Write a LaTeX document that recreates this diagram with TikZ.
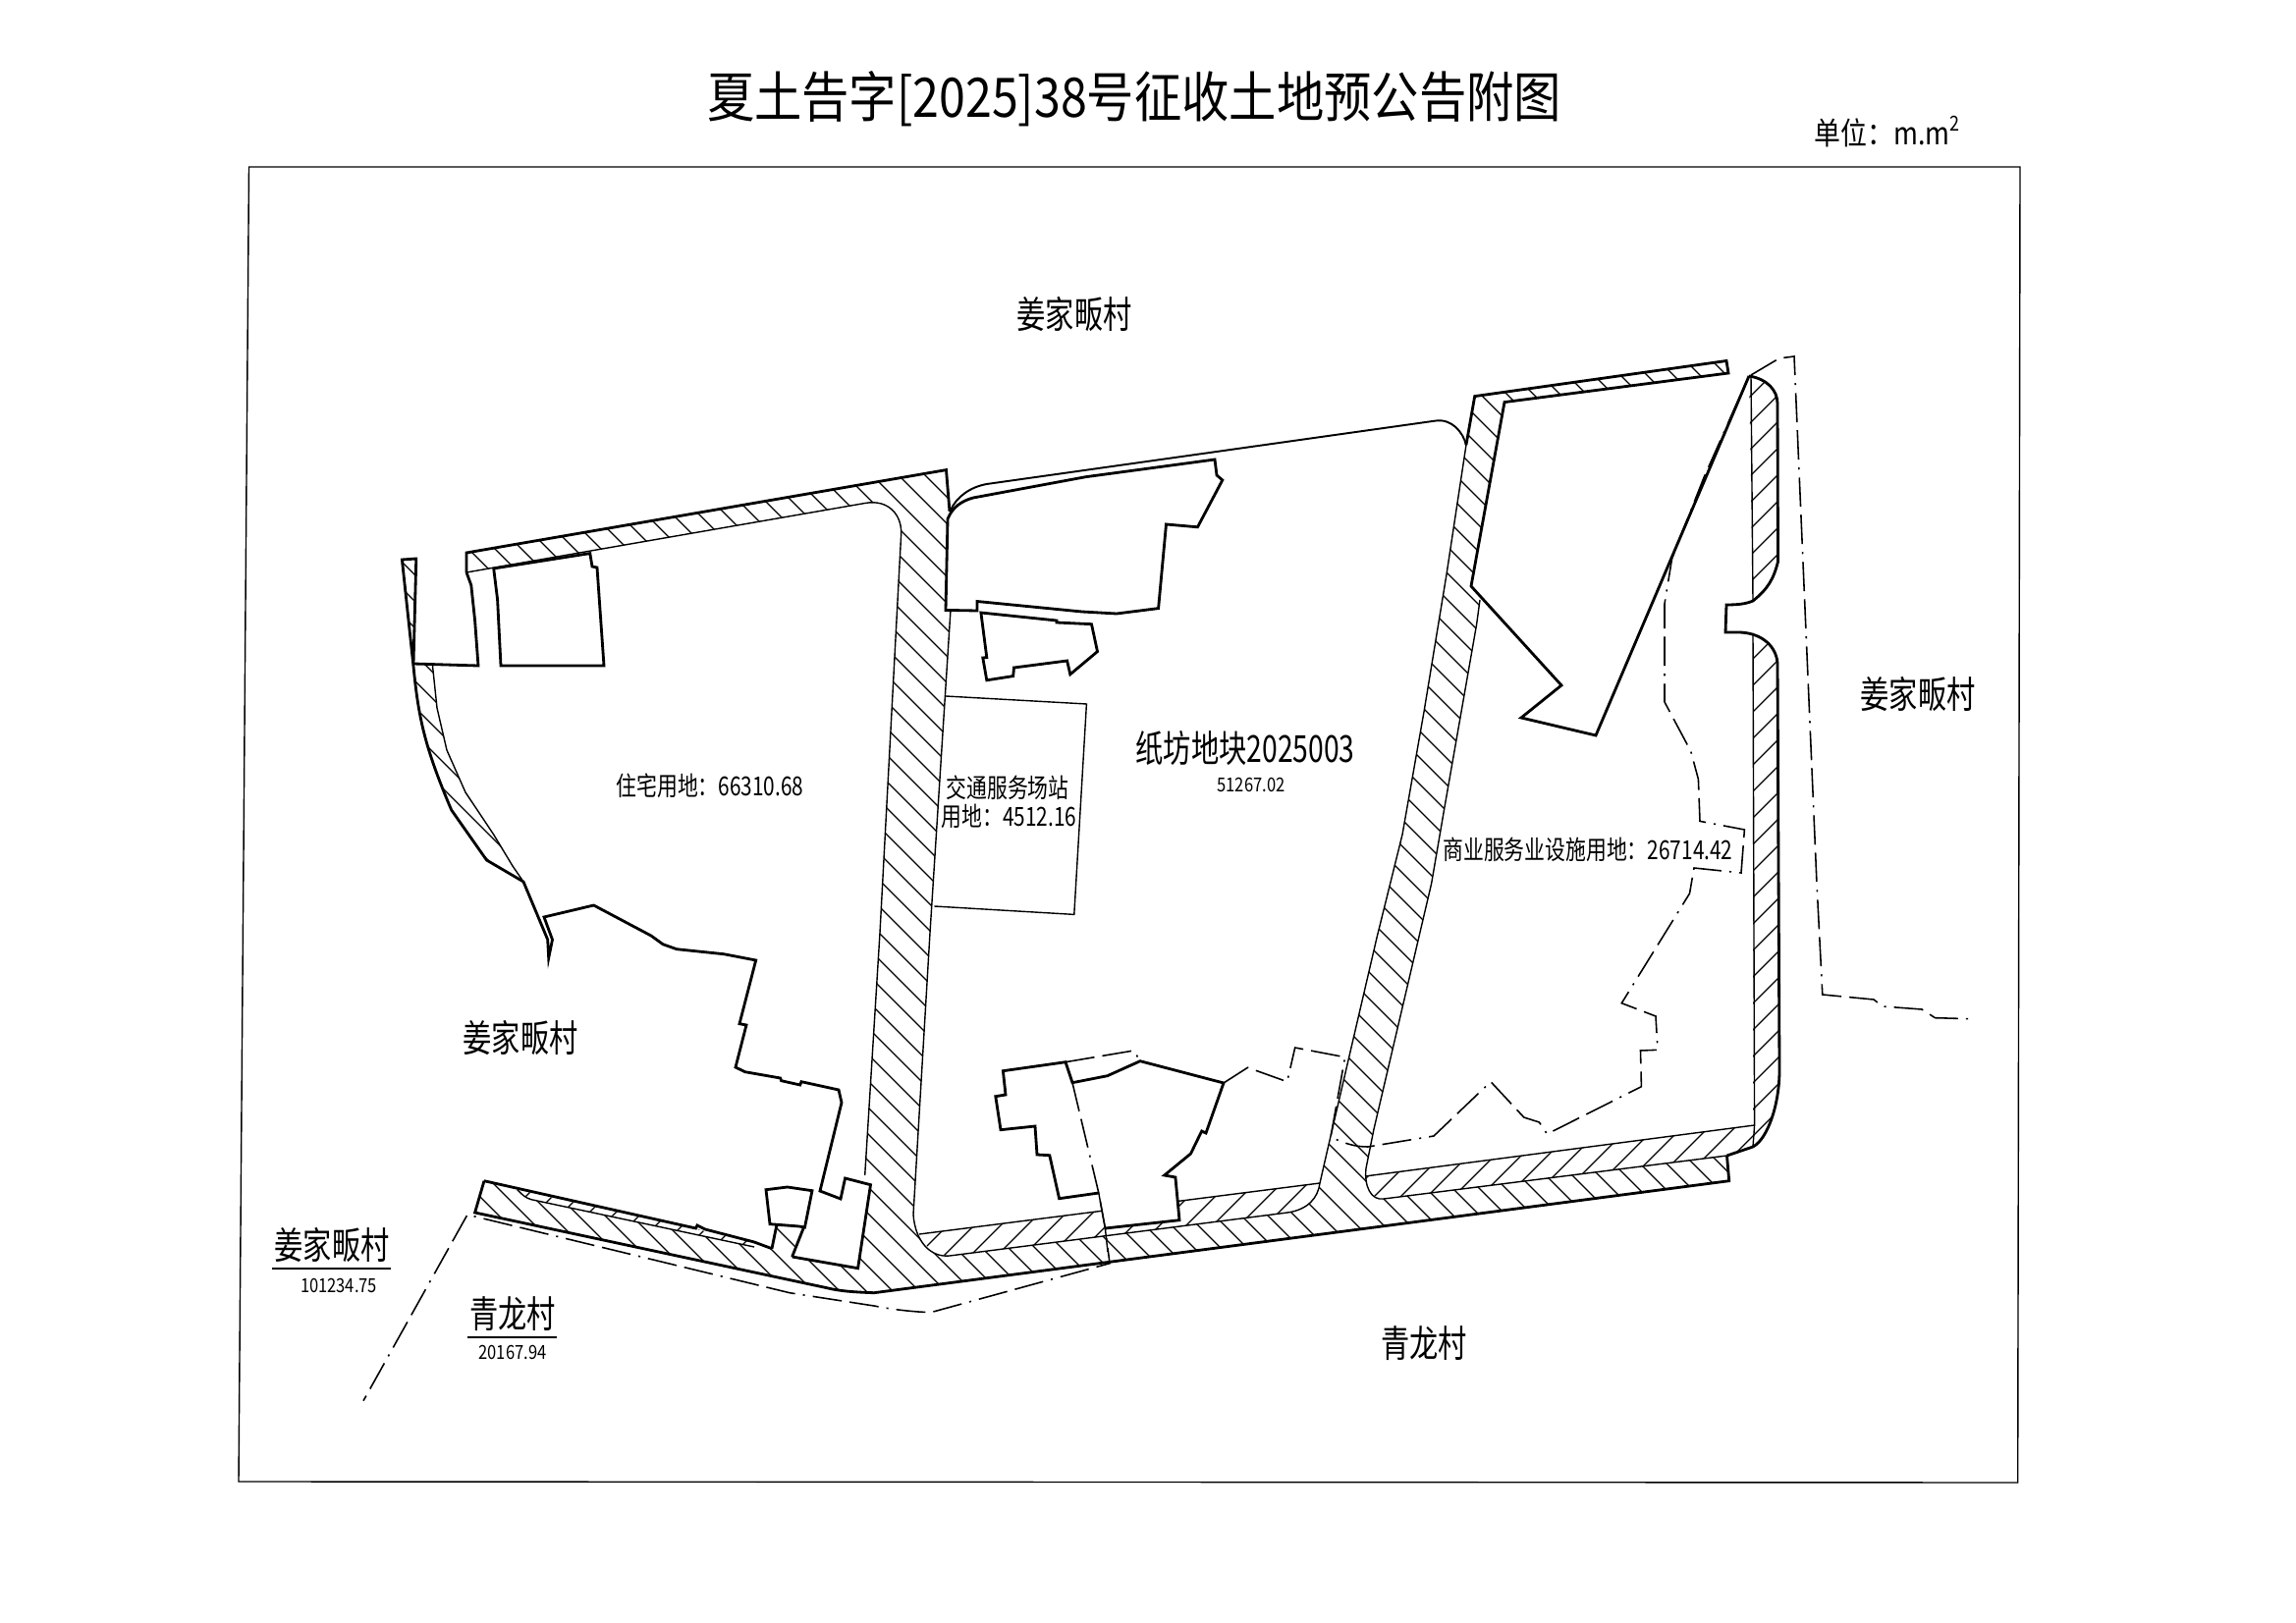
\documentclass[tikz,border=0pt]{standalone}
\usepackage{fontspec}
\setmainfont{Noto Sans CJK SC}
\usepackage{xcolor}

\tikzset{
  thinline/.style={black, line width=0.4pt},
  thickline/.style={black, line width=0.8pt, line join=miter},
  building/.style={thickline, fill=white},
  hatchline/.style={black, line width=0.38pt},
  limitline/.style={black, line width=0.45pt, dash pattern=on 8.5pt off 2.3pt on 8.5pt off 2.3pt on 0.6pt off 2.3pt},
  maptext/.style={inner sep=0pt, transform shape},
  villagetext/.style={maptext, xscale=0.77, font=\fontsize{10.8}{12}\selectfont},
  areatext/.style={maptext, xscale=0.78, font=\fontsize{7.6}{9}\selectfont},
  smalltext/.style={maptext, xscale=0.84, font=\fontsize{5.6}{6}\selectfont},
}

% hatching of one region, lines run down to the right
\newcommand{\hatchdown}[1]{%
  \begin{scope}
    \clip #1;
    \foreach \c in {-1000,-973,...,1500} {\draw[hatchline] (\c,0) -- (\c+1653,1653);}
  \end{scope}}
% hatching of one region, lines run down to the left
\newcommand{\hatchup}[1]{%
  \begin{scope}
    \clip #1;
    \foreach \c in {1700,1727,...,3000} {\draw[hatchline] (\c,0) -- (\c-1653,1653);}
  \end{scope}}

\begin{document}
\begin{tikzpicture}[x=0.1mm, y=-0.1mm]
\useasboundingbox (0,0) rectangle (2338,1653);

% frame
\draw[thinline] (253.5,170) -- (2057,170) -- (2054.7,1510) -- (243,1509) -- cycle;

% road hatching
\hatchdown{(475,563) -- (963.5,478.6) -- (967,521) -- (963.5,545) -- (963,621) -- (968,621) -- (947,950) -- (930,1237) .. controls (932,1265) and (948,1281) .. (967,1279) -- (1311,1235) .. controls (1332,1232) and (1342,1220) .. (1344,1205) -- (1352,1170) -- (1402,955) -- (1428,850) -- (1450,725) -- (1473,585) -- (1493,453) -- (1501.7,403.6) -- (1758,367.5) -- (1760,380) -- (1532,409.6) -- (1498,597) -- (1507,611) -- (1503.6,636) -- (1471,822) -- (1457.6,900) -- (1399,1150) -- (1391,1190) .. controls (1389,1208) and (1396,1223) .. (1409,1221) -- (1758.5,1177) -- (1760.7,1202.7) -- (900,1315) -- (890,1316.7) .. controls (870,1316) and (855,1315) .. (842,1311.7) -- (483.6,1235) -- (493,1202.7) -- (768,1265) -- (785,1271.7) -- (806.6,1280) -- (873.6,1291.7) -- (886.5,1206.7) -- (880.7,1197) -- (896,950) -- (917.6,545) .. controls (919,525) and (905,508) .. (880.7,512.5) -- (475,583) -- cycle}
\hatchdown{(409.4,570) -- (423.8,569) -- (421,676) -- (440.5,678) -- (445,721) -- (455,764) -- (474,807) -- (502.7,850) -- (522,882) -- (533,898) -- (495.5,876) -- (459.7,825) -- (435.7,768) -- (421,678.6) -- cycle}
\hatchdown{(790.8,1248) -- (818.5,1250) -- (806.6,1280) -- (786,1271.7) -- cycle}

% hatching the other way
\hatchup{(936,1257) -- (1344,1205) .. controls (1342,1220) and (1332,1232) .. (1311,1235) -- (967,1279) .. controls (955,1280) and (941,1270) .. (936,1257) -- cycle}
\hatchup{(1390,1198) -- (1786.6,1146) -- (1785,1168) -- (1758.5,1177) -- (1409,1221) .. controls (1400,1222) and (1393,1212) .. (1390,1198) -- cycle}
\hatchup{(1781,383) .. controls (1800,386) and (1810,398) .. (1810,411) -- (1810.5,572) .. controls (1806,590) and (1800,600) .. (1785,612) -- cycle}
\hatchup{(1785,645) .. controls (1800,650) and (1810,660) .. (1810,675) -- (1812,1090) .. controls (1812,1125) and (1800,1160) .. (1785,1168) -- cycle}

% thin strip along the south edge of the residential part
\path[fill=white] (526.7,1211.7) .. controls (532,1217) and (535,1220) .. (541,1221.7) -- (768,1270) -- (768,1265) -- cycle;
\hatchup{(526.7,1211.7) .. controls (532,1217) and (535,1220) .. (541,1221.7) -- (768,1270) -- (768,1265) -- cycle}
\draw[thinline] (526.7,1211.7) .. controls (532,1217) and (535,1220) .. (541,1221.7) -- (768,1270);

% road edges
\draw[thickline] (475,583) -- (475,563) -- (963.5,478.6) -- (967,521);
\draw[thinline] (475,583) -- (880.7,512.5) .. controls (905,508) and (919,525) .. (917.6,545) -- (896,950) -- (880.7,1197);
\draw[thinline] (968,621) -- (947,950) -- (930,1237) .. controls (932,1265) and (948,1281) .. (967,1279) -- (1311,1235) .. controls (1332,1232) and (1342,1220) .. (1344,1205) -- (1352,1170) -- (1402,955) -- (1428,850) -- (1450,725) -- (1473,585) -- (1493,453);
\draw[thinline] (936,1257) -- (1344,1205);
\draw[thinline] (1390,1198) -- (1786.6,1146);
\draw[thinline] (1507,611) -- (1503.6,636) -- (1471,822) -- (1457.6,900) -- (1399,1150) -- (1391,1190) .. controls (1389,1208) and (1396,1223) .. (1409,1221) -- (1758.5,1177);
\draw[thickline] (1493,453) -- (1501.7,403.6) -- (1758,367.5) -- (1760,380) -- (1532,409.6) -- (1498,597) -- (1590,698) -- (1549,731) -- (1625,749) -- (1781,383);
\draw[thickline] (493,1202.7) -- (483.6,1235) -- (842,1311.7) .. controls (855,1315) and (870,1316) .. (890,1316.7) -- (1760.7,1202.7) -- (1758.5,1177);
\draw[thickline] (493,1202.7) -- (708.5,1251) -- (710,1248) -- (718,1252) -- (768,1265) -- (786,1271.7);

% top edge of the middle part
\draw[thinline, line width=0.55pt] (968,519.6) .. controls (974,506) and (988,496) .. (1004.8,493) -- (1461.5,428.6) .. controls (1478,426) and (1490,440) .. (1493,453.6);

% left strip
\draw[thickline] (421,676) -- (487,678) -- (483.6,632) -- (479.8,596) -- (475,583);
\draw[thickline] (421,676) -- (423.8,569) -- (409.4,570) -- (421,678.6) .. controls (426,730) and (432,760) .. (459.7,825) -- (495.5,876) -- (533,898) -- (557.7,957) -- (558.7,975.7) -- (562.5,957) -- (554,934) -- (604.6,922) -- (663,953) -- (675,961.7) -- (689,966.7) -- (737,971.7) -- (769.7,978) -- (753,1042.7) -- (760,1044) -- (749,1087) -- (758.7,1091.7) -- (794.6,1098) -- (795.6,1100.7) -- (814.7,1105) -- (816,1101.7) -- (854,1110) -- (857,1123) -- (835,1213) -- (856,1221) -- (860.6,1200) -- (886.5,1206.7) -- (873.6,1291.7) -- (806.6,1280);
\draw[thinline] (440.5,678) -- (445,721) -- (455,764) -- (474,807) -- (502.7,850) -- (522,882) -- (533,898);

% buildings in the residential part
\draw[building] (502.7,579) -- (600.8,563.6) -- (603,577) -- (608,578) -- (615,678) -- (510,678) -- (506.6,610.7) -- cycle;
\draw[building] (780,1211.7) -- (801.8,1209) -- (827,1212.7) -- (819.5,1250) -- (813.7,1249) -- (784,1246.7) -- cycle;
\draw[thickline] (790.8,1248) -- (786,1271.7);
\draw[thickline] (818.5,1250) -- (806.6,1280);

% buildings in the middle part
\draw[building] (965,528.6) .. controls (970,516) and (980,510) .. (991,507) -- (1105.6,485.7) -- (1237,468) -- (1239,484) -- (1244.8,489) -- (1219.5,536.8) -- (1187.5,534) -- (1179.6,619.6) -- (1137,625) -- (1101.7,623) -- (995,612.5) -- (995,622) -- (963,621.4) -- cycle;
\draw[building] (998.9,624) -- (1076,632) -- (1076,634) -- (1111.5,635.7) -- (1117.5,663.6) -- (1089.8,686.8) -- (1086.6,673) -- (1032.5,680) -- (1031.7,688.6) -- (1004.8,692.8) -- (1000.8,670) -- (1004.8,669.6) -- cycle;
\draw[thinline] (963,709) -- (1106.4,717) -- (1093.8,931.4) -- (951.4,923);
\path[fill=white] (1021.4,1090.7) -- (1085,1081.7) -- (1092,1102.7) -- (1127.7,1095.7) -- (1161,1080.7) -- (1246,1103) -- (1228,1154) -- (1223.7,1152) -- (1212.5,1175) -- (1185.7,1197) -- (1196.9,1199) -- (1201,1242.7) -- (1125.4,1251) -- (1118.8,1215) -- (1078.6,1220.7) -- (1068.8,1176.7) -- (1056,1176) -- (1054,1147) -- (1019,1150.7) -- (1013.8,1116.7) -- (1024,1115) -- cycle;
\draw[thickline] (1118.8,1215) -- (1078.6,1220.7) -- (1068.8,1176.7) -- (1056,1176) -- (1054,1147) -- (1019,1150.7) -- (1013.8,1116.7) -- (1024,1115) -- (1021.4,1090.7) -- (1085,1081.7) -- (1092,1102.7) -- (1127.7,1095.7) -- (1161,1080.7) -- (1246,1103) -- (1228,1154) -- (1223.7,1152) -- (1212.5,1175) -- (1185.7,1197) -- (1196.9,1199) -- (1201,1242.7) -- (1125.4,1251);
\draw[thinline] (1118.8,1215) -- (1125.4,1251) -- (1128,1275);

% right strip
\draw[thinline] (1781,383) -- (1783,383) -- (1785,612);
\draw[thinline] (1785,645) -- (1786.6,1146) -- (1785,1168);
\draw[thickline] (1781,383) .. controls (1800,386) and (1810,398) .. (1810,411) -- (1810.5,572) .. controls (1806,590) and (1800,600) .. (1785,612) .. controls (1778,615) and (1770,616) .. (1758,616) -- (1757,644) -- (1770,644) .. controls (1790,644) and (1808,655) .. (1810,675) -- (1812,1090) .. controls (1812,1125) and (1800,1160) .. (1785,1168) -- (1758.5,1177);

% limit lines
\draw[limitline] (1085,1081.7) -- (1154.5,1070) -- (1161,1080.7);
\draw[limitline] (1092,1102.7) -- (1118.8,1215) -- (1125.4,1251) -- (1130,1286.7) -- (947.7,1336.7) .. controls (930,1336) and (910,1334) .. (890,1330) -- (804,1316.7) -- (483.6,1239) -- (476,1237) -- (370,1426.7);
\draw[limitline] (1246,1103) -- (1270.5,1087.3) -- (1310.7,1101.7) -- (1318.7,1067) -- (1369.6,1076.7) -- (1355,1158) .. controls (1370,1165) and (1380,1168) .. (1393,1168) -- (1460,1157) -- (1518,1101.7) -- (1551.8,1138) -- (1567.4,1143) -- (1575.4,1155) -- (1671.4,1106.7) -- (1670.5,1070) -- (1688,1069.3) -- (1686,1035) -- (1651.3,1021.7) -- (1720.5,910) -- (1725,884) -- (1773,889) -- (1776.4,845) -- (1731,836.4) -- (1729.4,793.6) -- (1721.7,765) -- (1695,715) -- (1695,615) -- (1702.6,568.6) -- (1735,486.4) -- (1781,383);
\draw[limitline] (1783,382) -- (1811.7,365) -- (1827,363) -- (1850,900) -- (1855.8,1013) -- (1908,1018) -- (1917,1025) -- (1957,1028) -- (1970.5,1036.7) -- (2007,1037.7);

% title and unit
\node[maptext, xscale=0.87, font=\fontsize{15.8}{18}\selectfont] (maptitle) at (1155,101) {夏土告字[2025]38号征收土地预公告附图};
\node[maptext, anchor=west, xscale=0.85, font=\fontsize{9}{11}\selectfont] (mapunit) at (1847,134) {单位：m.m\textsuperscript{2}};

% village labels
\node[villagetext] (villagetop) at (1094,320) {姜家畈村};
\node[villagetext] (villageright) at (1953,707) {姜家畈村};
\node[villagetext] (villageleft) at (530,1057) {姜家畈村};
\node[villagetext] (villagelow) at (338,1268) {姜家畈村};
\node[smalltext] (villagelowarea) at (345,1309) {101234.75};
\node[villagetext] (qinglongleft) at (522,1338) {青龙村};
\node[smalltext] (qinglongarea) at (522,1377) {20167.94};
\node[villagetext] (qinglongright) at (1450,1368) {青龙村};
\draw[thinline] (277,1292) -- (398,1292);
\draw[thinline] (476,1362) -- (567,1362);

% land use labels
\node[areatext] (zhuzhai) at (723,800) {住宅用地：66310.68};
\node[maptext, xscale=0.745, font=\fontsize{10.8}{12}\selectfont] (zhifang) at (1268,762) {纸坊地块2025003};
\node[smalltext] (zhifangarea) at (1274,799) {51267.02};
\node[areatext] (jiaotong) at (1026,802) {交通服务场站};
\node[areatext] (jiaotongarea) at (1027.6,831) {用地：4512.16};
\node[areatext] (shangye) at (1617,865) {商业服务业设施用地：26714.42};

\end{tikzpicture}
\end{document}
